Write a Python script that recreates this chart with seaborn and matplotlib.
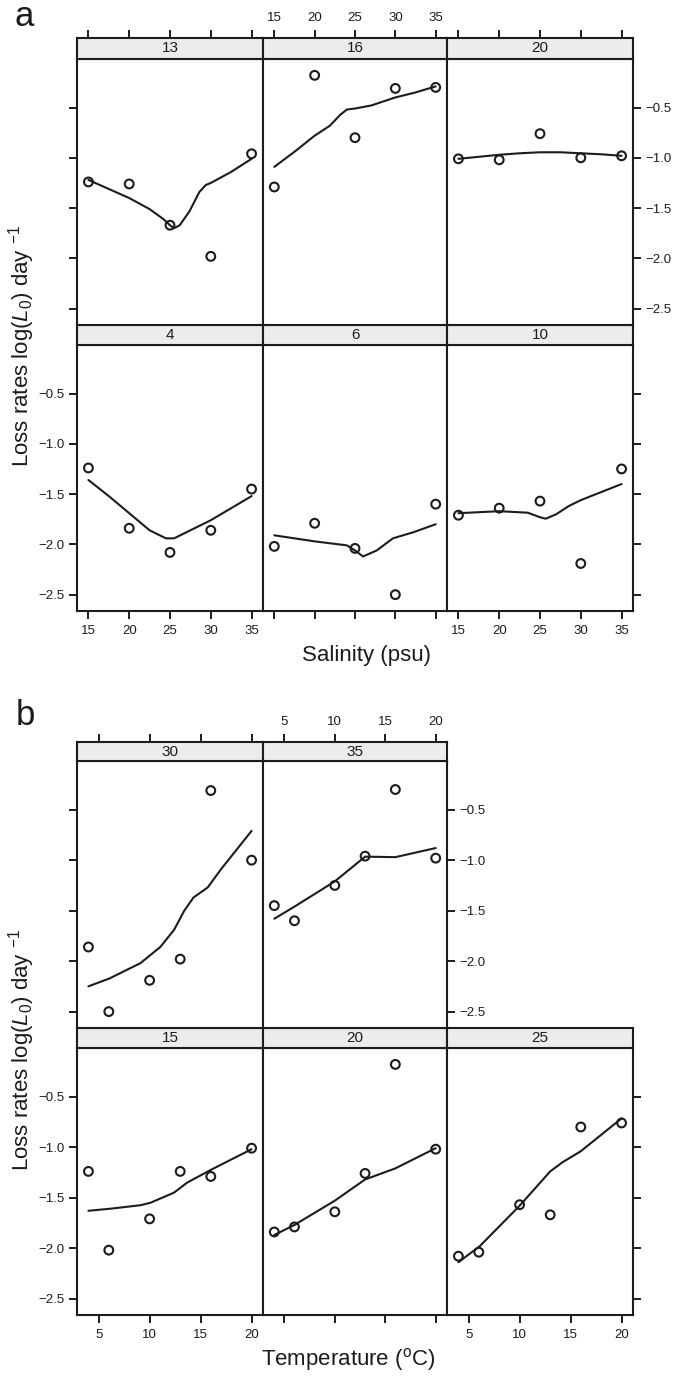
import numpy as np
import pandas as pd
import matplotlib
matplotlib.use("Agg")
import matplotlib.pyplot as plt
import seaborn as sns

# ---------------- data ----------------
salinity = [15, 20, 25, 30, 35]
temperature = [4, 6, 10, 13, 16, 20]

# loss rates log(L0) per temperature, at salinity 15..35
loss_T4 = [-1.24, -1.84, -2.08, -1.86, -1.45]
loss_T6 = [-2.02, -1.79, -2.04, -2.50, -1.60]
loss_T10 = [-1.71, -1.64, -1.57, -2.19, -1.25]
loss_T13 = [-1.24, -1.26, -1.67, -1.98, -0.96]
loss_T16 = [-1.29, -0.18, -0.80, -0.31, -0.30]
loss_T20 = [-1.01, -1.02, -0.76, -1.00, -0.98]

# smoothed (loess) curves, panel a (x = salinity)
sm_a_T4_x = [15, 17.5, 20, 22.5, 24.5, 25.5, 27, 30, 32.5, 35]
sm_a_T4_y = [-1.36, -1.52, -1.69, -1.86, -1.94, -1.94, -1.88, -1.76, -1.64, -1.52]
sm_a_T6_x = [15, 17.5, 20, 22, 24, 25, 26, 27.7, 29.7, 32.2, 35]
sm_a_T6_y = [-1.91, -1.94, -1.97, -1.99, -2.01, -2.06, -2.12, -2.06, -1.94, -1.88, -1.80]
sm_a_T10_x = [15, 20, 23.5, 25, 25.7, 27, 28.5, 30, 35]
sm_a_T10_y = [-1.69, -1.67, -1.685, -1.73, -1.745, -1.70, -1.62, -1.56, -1.40]
sm_a_T13_x = [15, 17.5, 20, 22.5, 24.2, 25, 25.5, 26.2, 27.4, 28.6, 29.4, 30, 32.5, 35]
sm_a_T13_y = [-1.22, -1.31, -1.40, -1.51, -1.61, -1.67, -1.70, -1.67, -1.53, -1.34, -1.27, -1.25, -1.14, -1.01]
sm_a_T16_x = [15, 17.5, 20, 21.9, 23.2, 24, 25, 27, 30, 32.5, 35]
sm_a_T16_y = [-1.09, -0.94, -0.78, -0.68, -0.57, -0.52, -0.51, -0.48, -0.40, -0.35, -0.29]
sm_a_T20_x = [15, 17.5, 20, 22.5, 25, 27.5, 30, 32.5, 35]
sm_a_T20_y = [-1.01, -0.99, -0.97, -0.955, -0.945, -0.945, -0.955, -0.965, -0.98]

# smoothed (loess) curves, panel b (x = temperature)
sm_b_S15_x = [4, 6.1, 9.1, 10.1, 12.4, 13.7, 16.1, 20]
sm_b_S15_y = [-1.63, -1.61, -1.575, -1.55, -1.45, -1.35, -1.22, -1.02]
sm_b_S20_x = [4, 6, 10, 13, 16, 20]
sm_b_S20_y = [-1.87, -1.77, -1.53, -1.32, -1.21, -1.01]
sm_b_S25_x = [4, 6.1, 10, 13, 14.2, 16, 20]
sm_b_S25_y = [-2.14, -1.98, -1.58, -1.24, -1.15, -1.04, -0.715]
sm_b_S30_x = [4, 6.1, 9.1, 11.05, 12.4, 13.4, 14.3, 15.7, 17.0, 20]
sm_b_S30_y = [-2.25, -2.17, -2.02, -1.86, -1.69, -1.50, -1.37, -1.27, -1.09, -0.71]
sm_b_S35_x = [4, 6, 10, 13, 16, 20]
sm_b_S35_y = [-1.58, -1.46, -1.21, -0.965, -0.97, -0.88]

x_ticks_a = [15, 20, 25, 30, 35]
x_ticks_b = [5, 10, 15, 20]
y_ticks = [-0.5, -1.0, -1.5, -2.0, -2.5]

# long-form table
rows = {4: loss_T4, 6: loss_T6, 10: loss_T10, 13: loss_T13, 16: loss_T16, 20: loss_T20}
df = pd.DataFrame([(t, s, v) for t, vals in rows.items() for s, v in zip(salinity, vals)],
                  columns=["temp", "sal", "loss"])
curves_a = {4: (sm_a_T4_x, sm_a_T4_y), 6: (sm_a_T6_x, sm_a_T6_y), 10: (sm_a_T10_x, sm_a_T10_y),
            13: (sm_a_T13_x, sm_a_T13_y), 16: (sm_a_T16_x, sm_a_T16_y), 20: (sm_a_T20_x, sm_a_T20_y)}
curves_b = {15: (sm_b_S15_x, sm_b_S15_y), 20: (sm_b_S20_x, sm_b_S20_y), 25: (sm_b_S25_x, sm_b_S25_y),
            30: (sm_b_S30_x, sm_b_S30_y), 35: (sm_b_S35_x, sm_b_S35_y)}

# ---------------- style ----------------
sns.set_theme(style="ticks")
plt.rcParams["font.family"] = ["Liberation Sans", "DejaVu Sans"]
plt.rcParams["mathtext.fontset"] = "custom"
plt.rcParams["mathtext.rm"] = "Liberation Sans"
plt.rcParams["mathtext.it"] = "Liberation Sans:italic"
INK = "#1c1c1c"
STRIP = "#ececec"

W, H = 679, 1378
fig = plt.figure(figsize=(W / 100, H / 100), dpi=100)
fig.patch.set_facecolor("white")


def rect(x0, y0, x1, y1):
    return [x0 / W, 1 - y1 / H, (x1 - x0) / W, (y1 - y0) / H]


def lims(vals):
    lo, hi = min(vals), max(vals)
    ext = 0.07 * (hi - lo)
    return (lo - ext, hi + ext)


YLIM = lims(df["loss"])
XLIM_A = lims(salinity)
XLIM_B = lims(temperature)


def panel(box, sbox, label, xs, ys, cx, cy, xlim, xticks,
          left=None, right=None, bottom=None, top=None):
    ax = fig.add_axes(rect(*box))
    sns.lineplot(x=cx, y=cy, ax=ax, color=INK, linewidth=1.5, sort=False, estimator=None)
    sns.scatterplot(x=xs, y=ys, ax=ax, s=40, facecolors="none", edgecolor=INK,
                    linewidth=1.5, zorder=3)
    ax.set_xlim(xlim)
    ax.set_ylim(YLIM)
    ax.set_xlabel("")
    ax.set_ylabel("")
    ax.set_xticks(xticks)
    ax.set_yticks(y_ticks)
    for sp in ax.spines.values():
        sp.set_visible(True)
        sp.set_linewidth(1.5)
        sp.set_color(INK)
    ax.tick_params(direction="out", length=6, width=1.4, color=INK,
                   labelsize=9.5, labelcolor=INK)
    ax.tick_params(axis="y", left=left is not None, labelleft=left == "labels",
                   right=right is not None, labelright=right == "labels", pad=3)
    ax.tick_params(axis="x", bottom=bottom is not None, labelbottom=bottom == "labels",
                   top=False, labeltop=False, pad=4)
    sax = fig.add_axes(rect(*sbox))
    sax.set_facecolor(STRIP)
    sax.set_xlim(xlim)
    sax.set_ylim(0, 1)
    sax.set_yticks([])
    sax.set_xticks(xticks)
    for sp in sax.spines.values():
        sp.set_visible(True)
        sp.set_linewidth(1.5)
        sp.set_color(INK)
    sax.tick_params(axis="x", direction="out", length=6, width=1.4, color=INK,
                    labelsize=9.5, labelcolor=INK, bottom=False, labelbottom=False,
                    top=top is not None, labeltop=top == "labels", pad=4)
    sax.text(0.5, 0.5, label, transform=sax.transAxes, ha="center", va="center",
             fontsize=11, color=INK)
    return ax


cols = [(77, 263), (263, 447), (447, 633)]

# ---------------- panel a: x = salinity, facets = temperature ----------------
a_top = dict(strip=(38, 59), box=(59, 325))
a_bot = dict(strip=(325, 345), box=(345, 611))
layout_a = [
    (4, a_bot, 0, dict(left="labels", bottom="labels")),
    (6, a_bot, 1, dict(bottom="ticks")),
    (10, a_bot, 2, dict(right="ticks", bottom="labels")),
    (13, a_top, 0, dict(left="ticks", top="ticks")),
    (16, a_top, 1, dict(top="labels")),
    (20, a_top, 2, dict(right="labels", top="ticks")),
]
for t, row, c, kw in layout_a:
    sub = df[df["temp"] == t]
    x0, x1 = cols[c]
    cx, cy = curves_a[t]
    panel((x0, row["box"][0], x1, row["box"][1]), (x0, row["strip"][0], x1, row["strip"][1]),
          str(t), sub["sal"], sub["loss"], cx, cy, XLIM_A, x_ticks_a, **kw)

# ---------------- panel b: x = temperature, facets = salinity ----------------
b_top = dict(strip=(742, 761), box=(761, 1028))
b_bot = dict(strip=(1028, 1048), box=(1048, 1315))
layout_b = [
    (15, b_bot, 0, dict(left="labels", bottom="labels")),
    (20, b_bot, 1, dict(bottom="ticks")),
    (25, b_bot, 2, dict(right="ticks", bottom="labels")),
    (30, b_top, 0, dict(left="ticks", top="ticks")),
    (35, b_top, 1, dict(right="labels", top="labels")),
]
for s, row, c, kw in layout_b:
    sub = df[df["sal"] == s]
    x0, x1 = cols[c]
    cx, cy = curves_b[s]
    panel((x0, row["box"][0], x1, row["box"][1]), (x0, row["strip"][0], x1, row["strip"][1]),
          str(s), sub["temp"], sub["loss"], cx, cy, XLIM_B, x_ticks_b, **kw)

# ---------------- labels ----------------
ylab = r"Loss rates log($\mathit{L}_{\mathit{0}}$) day $^{\mathrm{-1}}$"


def ftext(x, y, s, **kw):
    fig.text(x / W, 1 - y / H, s, color=INK, **kw)


ftext(14, 26, "a", fontsize=25, ha="left", va="baseline")
ftext(16, 725, "b", fontsize=25, ha="left", va="baseline")
ftext(22, 346, ylab, fontsize=16, rotation=90, ha="center", va="center")
ftext(22, 1050, ylab, fontsize=16, rotation=90, ha="center", va="center")
ftext(366, 656, "Salinity (psu)", fontsize=16, ha="center", va="center")
ftext(348, 1360, r"Temperature ($^{\mathrm{o}}$C)", fontsize=16, ha="center", va="center")

fig.savefig("out.png", dpi=100, facecolor="white")
